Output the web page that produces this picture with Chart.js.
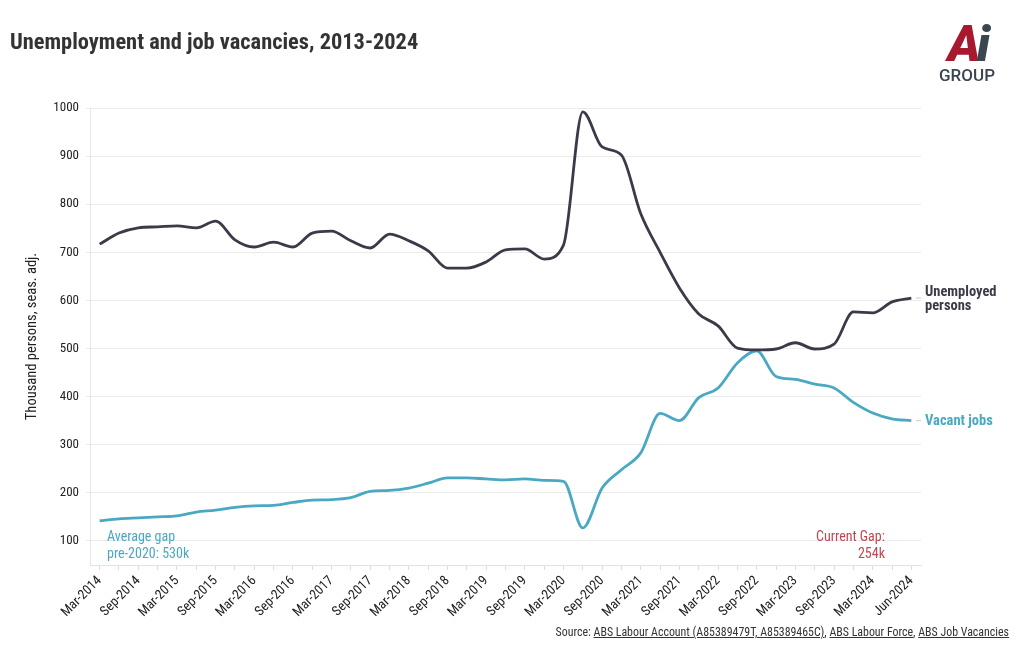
<!DOCTYPE html>
<html>
<head>
<meta charset="utf-8">
<script src="https://cdn.jsdelivr.net/npm/chart.js@4"></script>
<style>
  body { margin: 0; background: #fff; font-family: 'Roboto Condensed', 'Liberation Sans Narrow', Roboto, sans-serif; }
  #wrap { position: relative; width: 1020px; height: 650px; overflow: hidden; }
  canvas { position: absolute; left: 0; top: 0; }
  .title { position: absolute; left: 10px; top: 28px; font-size: 22.4px; font-weight: bold; color: #333; white-space: nowrap; }
  .logo { position: absolute; left: 936px; top: 21px; width: 62px; text-align: center; }
  .logo .ai { font-family: Roboto, sans-serif; font-size: 50px; font-weight: 900; font-style: italic; line-height: 46px; letter-spacing: -4px; }
  .logo .a { color: #a6192e; }
  .logo .i { color: #3b4650; }
  .logo .grp { font-family: Roboto, sans-serif; font-size: 17px; font-weight: 500; color: #3b4650; line-height: 16px; }
  .note { position: absolute; font-size: 14px; line-height: 17px; white-space: nowrap; }
  .source { position: absolute; right: 11px; top: 625px; font-size: 11.9px; color: #333; white-space: nowrap; }
  .source u { text-decoration: underline; }
</style>
</head>
<body>
<div id="wrap">
  <canvas id="chart" width="1020" height="650"></canvas>
  <div class="title">Unemployment and job vacancies, 2013-2024</div>
  <div class="logo"><div class="ai"><span class="a">A</span><span class="i">i</span></div><div class="grp">GROUP</div></div>
  <div class="note" style="left:107px; top:528px; color:#4aa9c2;">Average gap<br>pre-2020: 530k</div>
  <div class="note" style="right:135px; top:528px; color:#c0474f; text-align:right;">Current Gap:<br>254k</div>
  <div class="source">Source: <u>ABS Labour Account (A85389479T, A85389465C)</u>, <u>ABS Labour Force</u>, <u>ABS Job Vacancies</u></div>
</div>
<script>
// Periodos (trimestral)
const periods = [
  'Mar-2014', 'Jun-2014', 'Sep-2014', 'Dec-2014',
  'Mar-2015', 'Jun-2015', 'Sep-2015', 'Dec-2015',
  'Mar-2016', 'Jun-2016', 'Sep-2016', 'Dec-2016',
  'Mar-2017', 'Jun-2017', 'Sep-2017', 'Dec-2017',
  'Mar-2018', 'Jun-2018', 'Sep-2018', 'Dec-2018',
  'Mar-2019', 'Jun-2019', 'Sep-2019', 'Dec-2019',
  'Mar-2020', 'Jun-2020', 'Sep-2020', 'Dec-2020',
  'Mar-2021', 'Jun-2021', 'Sep-2021', 'Dec-2021',
  'Mar-2022', 'Jun-2022', 'Sep-2022', 'Dec-2022',
  'Mar-2023', 'Jun-2023', 'Sep-2023', 'Dec-2023',
  'Mar-2024', 'May-2024', 'Jun-2024'
];

// Desempregados (milhares)
const unemployed = [
  717, 740, 751, 753, 755, 751, 765, 726, 711, 721,
  711, 740, 744, 724, 709, 738, 724, 703, 667, 667,
  680, 705, 707, 686, 715, 992, 919, 902, 780, 700,
  626, 572, 547, 501, 497, 499, 512, 499, 509, 576,
  574, 597, 605
];

// Vagas (milhares)
const vacancies = [
  142, 146, 148, 150, 152, 160, 164, 170, 173, 174,
  180, 185, 186, 190, 203, 205, 210, 220, 231, 231,
  229, 227, 229, 226, 224, 127, 210, 248, 283, 365,
  350, 398, 418, 470, 495, 442, 436, 426, 418, 388,
  366, 354, 350
];

const yTicks = [100, 200, 300, 400, 500, 600, 700, 800, 900, 1000];

const corDesemp = '#3b3a48';
const corVagas = '#4aa9c2';
const fonte = "'Roboto Condensed', 'Liberation Sans Narrow', Roboto, sans-serif";

// Rotulos no fim das linhas
const endLabels = {
  id: 'endLabels',
  afterDatasetsDraw(chart) {
    const ctx = chart.ctx;
    const y = chart.scales.y;
    const right = chart.chartArea.right;
    const items = [
      { v: unemployed[unemployed.length - 1], lines: ['Unemployed', 'persons'], color: corDesemp },
      { v: vacancies[vacancies.length - 1], lines: ['Vacant jobs'], color: corVagas }
    ];
    ctx.save();
    items.forEach(it => {
      const py = y.getPixelForValue(it.v);
      ctx.strokeStyle = '#c8c8c8';
      ctx.lineWidth = 1;
      ctx.beginPath();
      ctx.moveTo(right - 5, py);
      ctx.lineTo(right, py);
      ctx.stroke();
      ctx.fillStyle = it.color;
      ctx.font = 'bold 14.5px ' + fonte;
      ctx.textBaseline = 'middle';
      ctx.textAlign = 'left';
      const lh = 14;
      const y0 = py - (it.lines.length - 1) * lh / 2 + 1;
      it.lines.forEach((t, k) => ctx.fillText(t, right + 4, y0 + k * lh));
    });
    ctx.restore();
  }
};

new Chart(document.getElementById('chart'), {
  type: 'line',
  data: {
    labels: periods,
    datasets: [{
      label: 'Unemployed persons',
      data: unemployed,
      borderColor: corDesemp,
      borderWidth: 2.8,
      pointRadius: 0,
      cubicInterpolationMode: 'monotone'
    }, {
      label: 'Vacant jobs',
      data: vacancies,
      borderColor: corVagas,
      borderWidth: 2.8,
      pointRadius: 0,
      cubicInterpolationMode: 'monotone'
    }]
  },
  options: {
    responsive: false,
    animation: false,
    layout: { padding: { left: 24, top: 108, right: 99, bottom: 0 } },
    plugins: { legend: { display: false }, tooltip: { enabled: false } },
    scales: {
      x: {
        offset: true,
        grid: { drawOnChartArea: false, color: '#dddddd', tickLength: 5 },
        border: { color: '#e2e2e2' },
        ticks: {
          autoSkip: false,
          maxRotation: 45,
          minRotation: 45,
          color: '#222',
          font: { family: fonte, size: 13.5 },
          callback: (v, i) => (i % 2 === 0 ? periods[i] : '')
        },
        afterFit: s => { s.height = 85; }
      },
      y: {
        min: 50,
        max: 1000,
        afterBuildTicks: s => { s.ticks = yTicks.map(v => ({ value: v })); },
        grid: { color: '#ebebeb', tickLength: 4 },
        border: { color: '#e6e6e6' },
        ticks: { color: '#222', font: { family: fonte, size: 13 }, padding: 7, callback: v => String(v) },
        title: {
          display: true,
          text: 'Thousand persons, seas. adj.',
          color: '#222',
          font: { family: fonte, size: 14.5 },
          padding: { top: 0, bottom: 0 }
        },
        afterFit: s => { s.width = 66; }
      }
    }
  },
  plugins: [endLabels]
});
</script>
</body>
</html>
